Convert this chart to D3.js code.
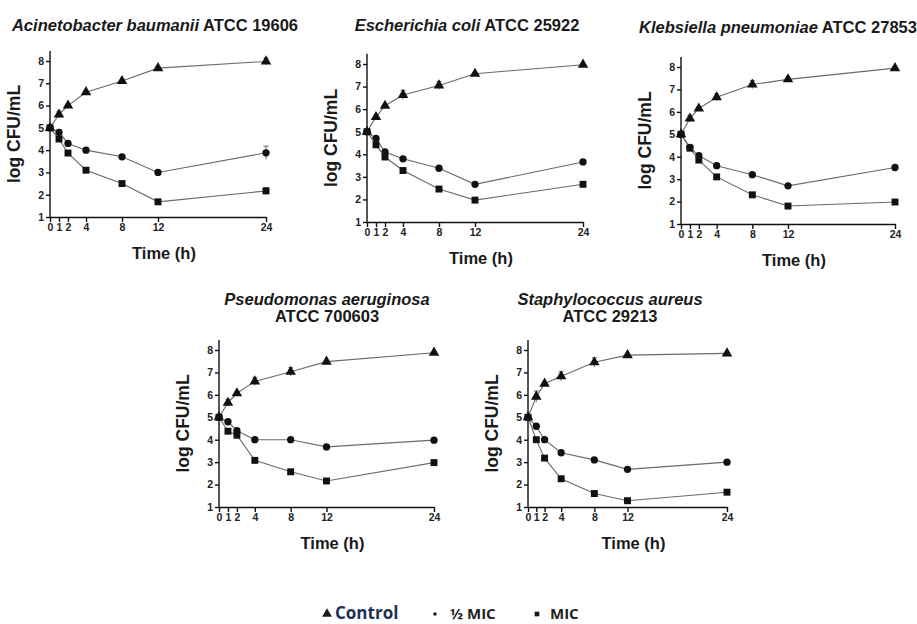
<!DOCTYPE html>
<html>
<head>
<meta charset="utf-8">
<script src="https://cdn.jsdelivr.net/npm/d3@7"></script>
<style>
  body { margin: 0; background: #fff; }
  svg { display: block; }
  .axis path, .axis line { stroke: #111; stroke-width: 1.4; }
  .axis text { font-weight: bold; font-size: 10.5px; fill: #222; }
  .title, .axisLabel { font-weight: bold; fill: #1a1a1a; }
</style>
</head>
<body>
<div id="chart"></div>
<script>

// sampling times (h) and y ticks
var times = [0, 1, 2, 4, 8, 12, 24];
var yTicks = [1, 2, 3, 4, 5, 6, 7, 8];

// panel titles
var speciesNames = ["Acinetobacter baumanii", "Escherichia coli", "Klebsiella pneumoniae",
  "Pseudomonas aeruginosa", "Staphylococcus aureus"];
var strainNames = ["ATCC 19606", "ATCC 25922", "ATCC 27853", "ATCC 700603", "ATCC 29213"];

// log CFU/mL, one row per organism
var controlValues = [
  [5.0, 5.6, 6.0, 6.6, 7.1, 7.68, 7.98],
  [5.0, 5.65, 6.15, 6.63, 7.05, 7.57, 7.97],
  [5.0, 5.7, 6.15, 6.65, 7.22, 7.45, 7.95],
  [5.0, 5.65, 6.07, 6.6, 7.03, 7.48, 7.88],
  [5.0, 5.92, 6.5, 6.83, 7.45, 7.77, 7.85]
];
var halfMicValues = [
  [5.0, 4.8, 4.3, 4.0, 3.7, 3.0, 3.88],
  [5.0, 4.7, 4.1, 3.8, 3.38, 2.67, 3.66],
  [5.0, 4.42, 4.05, 3.6, 3.2, 2.7, 3.52],
  [5.0, 4.8, 4.4, 4.0, 4.0, 3.68, 3.98],
  [5.0, 4.6, 4.0, 3.42, 3.1, 2.68, 3.0]
];
var micValues = [
  [5.0, 4.5, 3.87, 3.1, 2.5, 1.68, 2.17],
  [5.0, 4.42, 3.88, 3.28, 2.46, 1.97, 2.67],
  [5.0, 4.38, 3.85, 3.1, 2.3, 1.8, 1.98],
  [5.0, 4.38, 4.2, 3.08, 2.57, 2.16, 2.98],
  [5.0, 4.0, 3.18, 2.26, 1.6, 1.28, 1.66]
];

// standard deviations
var controlErrors = [
  [0.05, 0.15, 0.05, 0.05, 0.05, 0.05, 0.15],
  [0.05, 0.1, 0.05, 0.2, 0.18, 0.05, 0.05],
  [0.05, 0.15, 0.05, 0.15, 0.18, 0.05, 0.05],
  [0.05, 0.15, 0.05, 0.18, 0.18, 0.05, 0.05],
  [0.05, 0.25, 0.05, 0.2, 0.2, 0.05, 0.05]
];
var halfMicErrors = [
  [0.05, 0.1, 0.05, 0.1, 0.05, 0.05, 0.3],
  [0.05, 0.05, 0.05, 0.1, 0.05, 0.05, 0.05],
  [0.05, 0.05, 0.05, 0.1, 0.05, 0.05, 0.05],
  [0.05, 0.05, 0.05, 0.1, 0.05, 0.05, 0.05],
  [0.05, 0.05, 0.05, 0.1, 0.05, 0.05, 0.05]
];
var micErrors = [
  [0.05, 0.1, 0.1, 0.1, 0.05, 0.05, 0.15],
  [0.05, 0.05, 0.1, 0.05, 0.05, 0.05, 0.05],
  [0.05, 0.05, 0.1, 0.05, 0.05, 0.05, 0.05],
  [0.05, 0.05, 0.1, 0.05, 0.05, 0.05, 0.05],
  [0.05, 0.05, 0.1, 0.05, 0.05, 0.05, 0.1]
];

var legendLabels = ["Control", "\u00BD MIC", "MIC"];

//--------------------------------------------------------------------------
// Layout (pixel position of each plot area)
//
var width = 917, height = 624;
var fontFamily = "'Liberation Sans', Arimo, Arial, Helvetica, sans-serif";
var panels = [
  { x0: 50,  x1: 266, y8: 61,  y1: 217, titleX: 155, titleY: 31, twoLines: false },
  { x0: 367, x1: 583, y8: 64,  y1: 222, titleX: 467, titleY: 31, twoLines: false },
  { x0: 681, x1: 895, y8: 67,  y1: 224, titleX: 778, titleY: 33, twoLines: false },
  { x0: 219, x1: 434, y8: 350, y1: 507, titleX: 327, titleY: 305, twoLines: true },
  { x0: 528, x1: 727, y8: 350, y1: 507, titleX: 610, titleY: 305, twoLines: true }
];

var svg = d3.select("#chart").append("svg")
    .attr("width", width)
    .attr("height", height)
    .style("font-family", fontFamily);

var seriesDefs = [
  { values: controlValues, errors: controlErrors, symbol: d3.symbolTriangle, size: 48 },
  { values: halfMicValues, errors: halfMicErrors, symbol: d3.symbolCircle, size: 42 },
  { values: micValues, errors: micErrors, symbol: d3.symbolSquare, size: 48 }
];

panels.forEach(function(p, i) {
  var g = svg.append("g");

  var x = d3.scaleLinear().domain([0, 24]).range([p.x0, p.x1]);
  var y = d3.scaleLinear().domain([1, 8]).range([p.y1, p.y8]);

  // y axis, slightly taller than the last tick
  var yAxisG = g.append("g")
      .attr("class", "axis")
      .attr("transform", "translate(" + p.x0 + ",0)")
      .call(d3.axisLeft(y).tickValues(yTicks).tickFormat(d3.format("d"))
        .tickSize(4).tickSizeOuter(0).tickPadding(2));
  yAxisG.attr("font-family", null);
  yAxisG.select(".domain").attr("d", "M0," + y(1) + "V" + y(8.45));

  var xAxisG = g.append("g")
      .attr("class", "axis")
      .attr("transform", "translate(0," + p.y1 + ")")
      .call(d3.axisBottom(x).tickValues(times).tickFormat(d3.format("d"))
        .tickSize(5).tickSizeOuter(0).tickPadding(2));
  xAxisG.attr("font-family", null);

  // lines, error bars, markers
  seriesDefs.forEach(function(s) {
    var vals = s.values[i], errs = s.errors[i];
    var pts = times.map(function(t, k) { return { t: t, v: vals[k], e: errs[k] }; });

    g.append("path")
        .datum(pts)
        .attr("fill", "none")
        .attr("stroke", "#6a6a6a")
        .attr("stroke-width", 1.1)
        .attr("d", d3.line().x(function(d) { return x(d.t); }).y(function(d) { return y(d.v); }));

    var eb = g.append("g").attr("stroke", "#555").attr("stroke-width", 0.9);
    eb.selectAll("line.v").data(pts).enter().append("line")
        .attr("x1", function(d) { return x(d.t); })
        .attr("x2", function(d) { return x(d.t); })
        .attr("y1", function(d) { return y(d.v - d.e); })
        .attr("y2", function(d) { return y(d.v + d.e); });
    eb.selectAll("line.c").data(pts).enter().append("line")
        .attr("x1", function(d) { return x(d.t) - 2.5; })
        .attr("x2", function(d) { return x(d.t) + 2.5; })
        .attr("y1", function(d) { return y(d.v + d.e); })
        .attr("y2", function(d) { return y(d.v + d.e); });

    g.selectAll(null).data(pts).enter().append("path")
        .attr("transform", function(d) { return "translate(" + x(d.t) + "," + y(d.v) + ")"; })
        .attr("d", d3.symbol().type(s.symbol).size(s.size))
        .attr("fill", "#111");
  });

  // axis titles
  g.append("text")
      .attr("class", "axisLabel")
      .attr("font-size", 17.5)
      .attr("text-anchor", "middle")
      .attr("transform", "translate(" + (p.x0 - 30) + "," + ((p.y1 + p.y8) / 2 - 5) + ") rotate(-90)")
      .text("log CFU/mL");

  g.append("text")
      .attr("class", "axisLabel")
      .attr("font-size", 16.5)
      .attr("text-anchor", "middle")
      .attr("x", (p.x0 + p.x1) / 2 + 6)
      .attr("y", p.y1 + 42)
      .text("Time (h)");

  // panel title
  var title = g.append("text")
      .attr("class", "title")
      .attr("font-size", 16.5)
      .attr("text-anchor", "middle")
      .attr("x", p.titleX)
      .attr("y", p.titleY);
  if (p.twoLines) {
    title.append("tspan").attr("font-style", "italic").attr("x", p.titleX).text(speciesNames[i]);
    title.append("tspan").attr("x", p.titleX).attr("dy", 17).text(strainNames[i]);
  } else {
    title.append("tspan").attr("font-style", "italic").text(speciesNames[i]);
    title.append("tspan").text(" " + strainNames[i]);
  }
});

//--------------------------------------------------------------------------
// Legend
//
var legendItems = [
  { label: legendLabels[0], symbol: d3.symbolTriangle, size: 42, sx: 327, tx: 335, color: "#1f2f55", fs: 17 },
  { label: legendLabels[1], symbol: d3.symbolCircle, size: 10, sx: 435, tx: 450, color: "#222", fs: 15 },
  { label: legendLabels[2], symbol: d3.symbolSquare, size: 22, sx: 537, tx: 550, color: "#222", fs: 15 }
];
var legend = svg.append("g");
legend.selectAll(null).data(legendItems).enter().append("path")
    .attr("transform", function(d) { return "translate(" + d.sx + ",614)"; })
    .attr("d", function(d) { return d3.symbol().type(d.symbol).size(d.size)(); })
    .attr("fill", "#1a1a1a");
legend.selectAll(null).data(legendItems).enter().append("text")
    .attr("x", function(d) { return d.tx; })
    .attr("y", 619)
    .attr("font-family", "'Open Sans', 'Liberation Sans', sans-serif")
    .attr("font-weight", "bold")
    .attr("font-size", function(d) { return d.fs; })
    .attr("fill", function(d) { return d.color; })
    .text(function(d) { return d.label; });

</script>
</body>
</html>
